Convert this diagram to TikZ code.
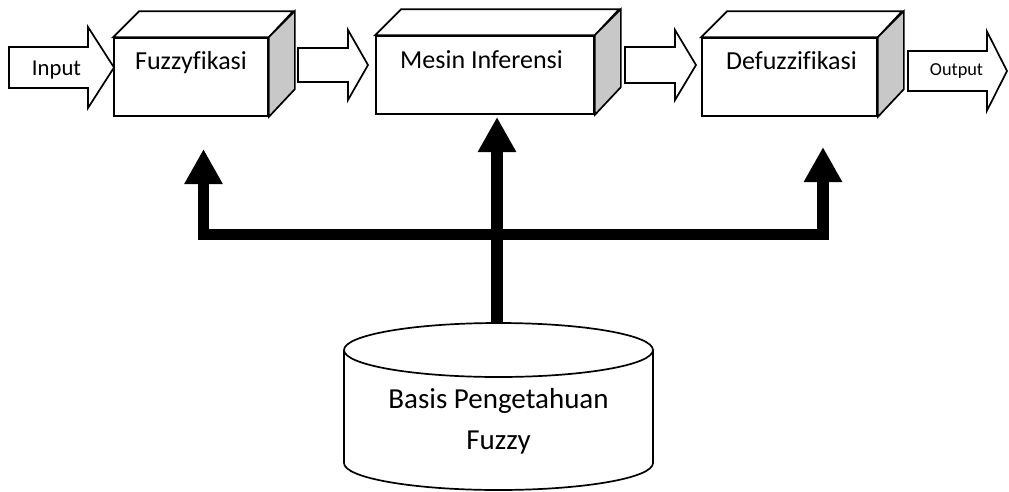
\documentclass[tikz,border=0pt]{standalone}
\usepackage{fontspec}
\setmainfont[Ligatures={NoCommon}]{Carlito}
\usetikzlibrary{arrows.meta, calc, positioning}

\definecolor{sidegray}{RGB}{200,200,200}

\tikzset{
    front/.style={draw, fill=white, line width=1.7pt, inner sep=0pt},
    face/.style={draw, line width=1.7pt, line join=miter},
    fatarrow/.style={draw, fill=white, line width=1.7pt, line join=miter},
    bus/.style={line width=11.5pt, -{Triangle[width=36pt,length=35pt]}},
    basefont/.style={anchor=base, inner sep=0pt}
}

\newcommand{\blockarrow}[5]{%
    \draw[fatarrow] let \p1=(#1), \p2=(#2) in
        (\x1,{\y1+#3pt}) -- ({\x2-#5pt},{\y1+#3pt}) -- ({\x2-#5pt},{\y1+#4pt}) -- (\x2,\y1)
        -- ({\x2-#5pt},{\y1-#4pt}) -- ({\x2-#5pt},{\y1-#3pt}) -- (\x1,{\y1-#3pt}) -- cycle;
}

\begin{document}
\begin{tikzpicture}[x=1pt, y=-1pt]
            \useasboundingbox (0, 0) rectangle (1009, 491);

            \foreach \name/\cx/\cy/\w/\tx/\ty/\txt in
                {fuzz/191/77/154/191/69/Fuzzyfikasi,
                 mesin/485/75/218/481.5/68/Mesin Inferensi,
                 defuzz/789.5/77/175/791.5/69/Defuzzifikasi}
                {
                    \node[front, minimum width=\w pt, minimum height=78pt] (\name) at (\cx, \cy) {};
                    \draw[face, fill=white] (\name.north west) -- ++(26, -26) -- ++(\w, 0) -- (\name.north east) -- cycle;
                    \draw[face, fill=sidegray] (\name.north east) -- ++(26, -26) -- ++(0, 78) -- (\name.south east) -- cycle;
                    \node[basefont, font=\fontsize{26}{31}\selectfont] (\name-text) at (\tx, \ty) {\txt};
                }

            \coordinate (in-tail) at (9, 67.5);
            \coordinate (in-tip) at (114, 67.5);
            \blockarrow{in-tail}{in-tip}{20.5}{40.5}{26}
            \node[basefont, font=\fontsize{22.7}{27}\selectfont] (input) at (56.5, 75) {Input};

            \coordinate (fm-tail) at (298, 65);
            \coordinate (fm-tip) at (368, 65);
            \blockarrow{fm-tail}{fm-tip}{17}{35}{20}

            \coordinate (md-tail) at (625, 65);
            \coordinate (md-tip) at (696, 65);
            \blockarrow{md-tail}{md-tip}{18}{35}{21}

            \coordinate (out-tail) at (908, 71);
            \coordinate (out-tip) at (1007, 71);
            \blockarrow{out-tail}{out-tip}{20}{39.5}{20}
            \node[basefont, font=\fontsize{18.3}{22}\selectfont] (output) at (956.5, 75) {Output};

            \draw[face, fill=white] (344, 350) -- (344, 463) arc[start angle=180, end angle=360, x radius=154.5pt, y radius=27pt] -- (653, 350);
            \draw[face] (498.5, 350) ellipse[x radius=154.5pt, y radius=27pt];
            \node[align=center, inner sep=0pt, font=\fontsize{29}{41}\selectfont] (kb) at (498.5, 421.5) {Basis Pengetahuan\\Fuzzy};

            \coordinate (kb-top) at (497, 323);
            \coordinate (hub) at (497, 234.5);
            \coordinate (fuzz-in) at (203.5, 149);
            \coordinate (mesin-in) at (497, 117);
            \coordinate (defuzz-in) at (823, 147);

            \draw[bus] (kb-top) -- (mesin-in);
            \draw[bus] (hub) -| (fuzz-in);
            \draw[bus] (hub) -| (defuzz-in);
        \end{tikzpicture}
\end{document}
